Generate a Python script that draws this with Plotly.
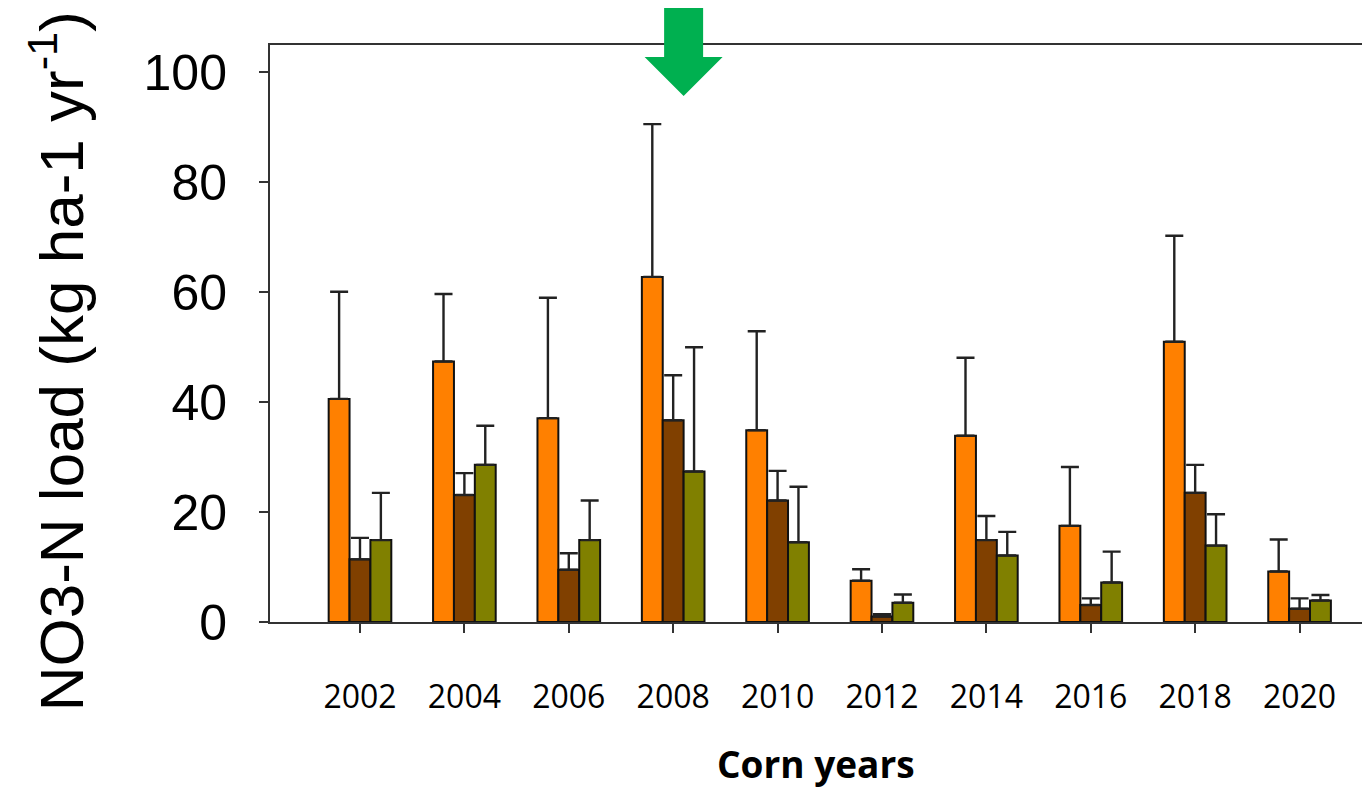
import plotly.graph_objects as go

years = ["2002", "2004", "2006", "2008", "2010", "2012", "2014", "2016", "2018", "2020"]
orange_vals = [40.6, 47.4, 37.1, 62.8, 34.9, 7.5, 33.9, 17.5, 51.0, 9.2]
orange_tops = [60.1, 59.7, 59.0, 90.6, 52.9, 9.6, 48.1, 28.2, 70.3, 15.0]
brown_vals = [11.4, 23.1, 9.5, 36.7, 22.1, 1.0, 14.9, 3.1, 23.5, 2.4]
brown_tops = [15.3, 27.1, 12.5, 44.9, 27.5, 1.4, 19.3, 4.3, 28.6, 4.3]
green_vals = [14.9, 28.6, 14.9, 27.4, 14.5, 3.5, 12.1, 7.2, 13.9, 3.9]
green_tops = [23.5, 35.7, 22.1, 50.0, 24.6, 5.0, 16.4, 12.8, 19.6, 4.9]
y_ticks = [0, 20, 40, 60, 80, 100]
arrow_year = "2008"

x_idx = list(range(len(years)))
xmin, xmax = -0.862, 9.598

fig = go.Figure()
for vals, tops, color in [
    (orange_vals, orange_tops, "#FF8000"),
    (brown_vals, brown_tops, "#804000"),
    (green_vals, green_tops, "#808000"),
]:
    fig.add_trace(go.Bar(
        x=x_idx, y=vals,
        marker=dict(color=color, line=dict(color="#111111", width=2)),
        error_y=dict(type="data", symmetric=False,
                     array=[t - v for t, v in zip(tops, vals)],
                     arrayminus=[0] * len(vals),
                     color="#222222", thickness=2.4, width=9),
        showlegend=False,
    ))

arrow_x = (years.index(arrow_year) + 0.1 - xmin) / (xmax - xmin)
fig.add_shape(
    type="path", xref="paper", yref="paper",
    xsizemode="pixel", ysizemode="pixel",
    xanchor=arrow_x, yanchor=1,
    path="M -19.5,80 L 19.5,80 L 19.5,-12 L 39,-12 L 0,-51 L -39,-12 L -19.5,-12 Z",
    fillcolor="#00B050", line=dict(width=0), layer="above",
)

fig.add_annotation(
    text="NO3-N load (kg ha-1 yr<sup>-1</sup>)",
    xref="paper", yref="paper", x=-0.195, y=0.452,
    xanchor="center", yanchor="middle", textangle=-90, showarrow=False,
    font=dict(family="Liberation Sans", size=62, color="black"),
)

fig.add_annotation(
    text="<b>Corn years</b>",
    xref="paper", yref="paper", x=0.5, y=-0.245,
    xanchor="center", yanchor="middle", showarrow=False, borderpad=0,
    font=dict(family="Open Sans", size=37, color="black"),
)

fig.update_layout(
    width=1354, height=783,
    margin=dict(l=262, r=0, t=37, b=169),
    paper_bgcolor="white", plot_bgcolor="white",
    barmode="group", bargap=0.4, bargroupgap=0,
    xaxis=dict(
        range=[xmin, xmax], tickmode="array", tickvals=x_idx, ticktext=years,
        showline=True, linecolor="#333333", linewidth=2, mirror=True,
        ticks="outside", ticklen=9, tickwidth=2, tickcolor="#333333",
        showgrid=False, zeroline=False, automargin=False,
        tickfont=dict(family="Open Sans", size=32, color="black"),
        ticklabelstandoff=37,
    ),
    yaxis=dict(
        range=[0, 105], tickmode="array", tickvals=y_ticks,
        showline=True, linecolor="#333333", linewidth=2, mirror=True,
        ticks="outside", ticklen=9, tickwidth=2, tickcolor="#333333",
        showgrid=False, zeroline=False, automargin=False,
        tickfont=dict(family="Liberation Sans", size=50, color="black"),
        ticklabelstandoff=22,
    ),
)

fig.write_html("out.html")
